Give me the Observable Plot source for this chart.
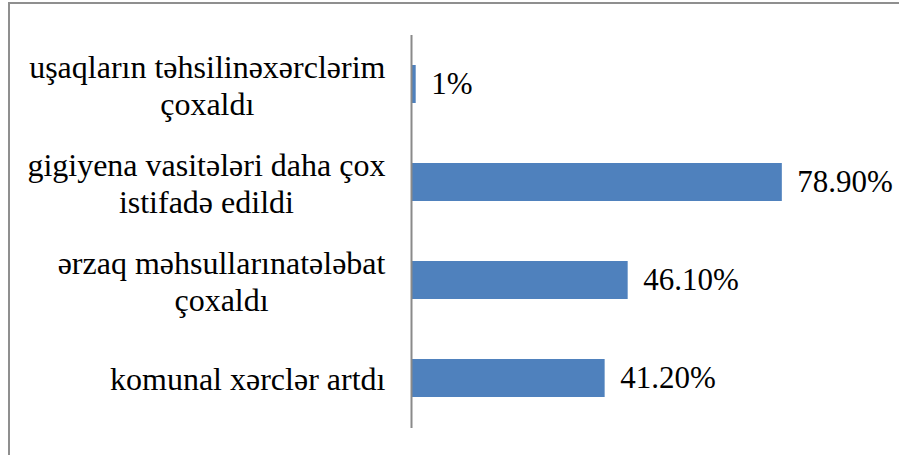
<!DOCTYPE html>
<html>
<head>
<meta charset="utf-8">
<script src="https://cdn.jsdelivr.net/npm/d3@7"></script>
<script src="https://cdn.jsdelivr.net/npm/@observablehq/plot@0.6"></script>
<style>
  html, body { margin: 0; padding: 0; background: #fff; }
  #wrap { position: relative; width: 899px; height: 455px; overflow: hidden; }
  #frame { position: absolute; left: 8px; top: 2px; right: -10px; bottom: -10px;
           border-top: 2px solid #8f8f8f; border-left: 2px solid #8f8f8f; pointer-events: none; }
</style>
</head>
<body>
<div id="wrap"><div id="frame"></div></div>
<script>
const categories = [
  "uşaqların təhsilinəxərclərim\nçoxaldı",
  "gigiyena vasitələri daha çox\nistifadə edildi",
  "ərzaq məhsullarınatələbat\nçoxaldı",
  "komunal xərclər artdı"
];
const values = [1, 78.9, 46.1, 41.2];
const valueLabels = ["1%", "78.90%", "46.10%", "41.20%"];

const data = categories.map((c, i) => ({cat: c, value: values[i], label: valueLabels[i]}));
const font = "'Liberation Serif', 'Times New Roman', serif";

const chart = Plot.plot({
  width: 899,
  height: 455,
  marginLeft: 411,
  marginRight: 18,
  marginTop: 35,
  marginBottom: 27,
  style: {fontFamily: font, background: "transparent"},
  x: {domain: [0, 100], axis: null},
  y: {domain: categories, axis: null, paddingInner: 0.61, paddingOuter: 0.305},
  marks: [
    Plot.barX(data, {x: "value", y: "cat", fill: "#4f81bd"}),
    Plot.ruleX([0], {stroke: "#8a8a8a", strokeWidth: 2}),
    Plot.text(data, {x: "value", y: "cat", text: "label", textAnchor: "start", dx: 15,
      fontSize: 31, fontFamily: font, fill: "#000", lineAnchor: "middle"}),
    Plot.text(data, {x: 0, y: "cat", text: "cat", textAnchor: "end", dx: -26,
      fontSize: 32, fontFamily: font, fill: "#000", lineHeight: 1.15, lineAnchor: "middle",
      className: "cat-label"})
  ]
});
document.getElementById("wrap").prepend(chart);

// Center multi-line category labels within their own block, keeping the block right-aligned
chart.querySelectorAll("g.cat-label text").forEach(t => {
  const tspans = t.querySelectorAll("tspan");
  const w = t.getBBox().width;
  t.setAttribute("text-anchor", "middle");
  if (tspans.length) tspans.forEach(s => s.setAttribute("x", -w / 2));
  else t.setAttribute("x", -w / 2);
});
</script>
</body>
</html>
